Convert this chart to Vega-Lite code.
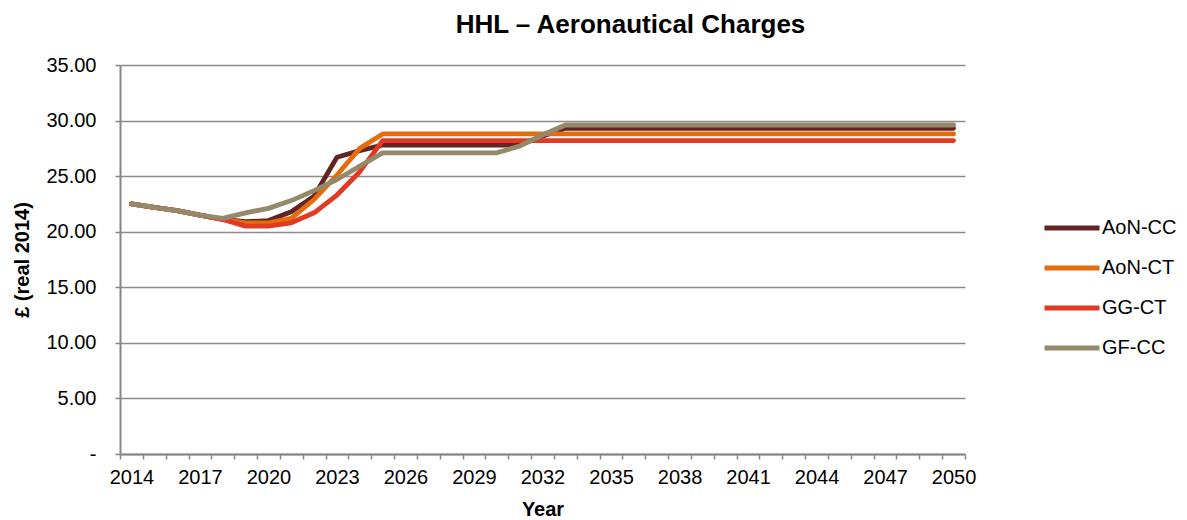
{
  "$schema": "https://vega.github.io/schema/vega-lite/v6.json",
  "width": 845,
  "height": 389,
  "autosize": {"type": "none"},
  "padding": {"left": 120, "top": 65, "right": 222, "bottom": 66},
  "background": "white",
  "title": {
    "text": "HHL – Aeronautical Charges",
    "fontSize": 26,
    "fontWeight": "bold",
    "font": "Liberation Sans",
    "color": "#000000",
    "anchor": "middle",
    "dx": 88,
    "offset": 17
  },
  "config": {
    "font": "Liberation Sans",
    "view": {"stroke": null}
  },
  "datasets": {
    "charges": [
      {"year": 2014, "series": "AoN-CC", "value": 22.5},
      {"year": 2015, "series": "AoN-CC", "value": 22.2},
      {"year": 2016, "series": "AoN-CC", "value": 21.9},
      {"year": 2017, "series": "AoN-CC", "value": 21.5},
      {"year": 2018, "series": "AoN-CC", "value": 21.1},
      {"year": 2019, "series": "AoN-CC", "value": 20.9},
      {"year": 2020, "series": "AoN-CC", "value": 21.0},
      {"year": 2021, "series": "AoN-CC", "value": 21.8},
      {"year": 2022, "series": "AoN-CC", "value": 23.2},
      {"year": 2023, "series": "AoN-CC", "value": 26.7},
      {"year": 2024, "series": "AoN-CC", "value": 27.3},
      {"year": 2025, "series": "AoN-CC", "value": 27.8},
      {"year": 2026, "series": "AoN-CC", "value": 27.8},
      {"year": 2027, "series": "AoN-CC", "value": 27.8},
      {"year": 2028, "series": "AoN-CC", "value": 27.8},
      {"year": 2029, "series": "AoN-CC", "value": 27.8},
      {"year": 2030, "series": "AoN-CC", "value": 27.8},
      {"year": 2031, "series": "AoN-CC", "value": 27.8},
      {"year": 2032, "series": "AoN-CC", "value": 28.6},
      {"year": 2033, "series": "AoN-CC", "value": 29.3},
      {"year": 2034, "series": "AoN-CC", "value": 29.3},
      {"year": 2035, "series": "AoN-CC", "value": 29.3},
      {"year": 2036, "series": "AoN-CC", "value": 29.3},
      {"year": 2037, "series": "AoN-CC", "value": 29.3},
      {"year": 2038, "series": "AoN-CC", "value": 29.3},
      {"year": 2039, "series": "AoN-CC", "value": 29.3},
      {"year": 2040, "series": "AoN-CC", "value": 29.3},
      {"year": 2041, "series": "AoN-CC", "value": 29.3},
      {"year": 2042, "series": "AoN-CC", "value": 29.3},
      {"year": 2043, "series": "AoN-CC", "value": 29.3},
      {"year": 2044, "series": "AoN-CC", "value": 29.3},
      {"year": 2045, "series": "AoN-CC", "value": 29.3},
      {"year": 2046, "series": "AoN-CC", "value": 29.3},
      {"year": 2047, "series": "AoN-CC", "value": 29.3},
      {"year": 2048, "series": "AoN-CC", "value": 29.3},
      {"year": 2049, "series": "AoN-CC", "value": 29.3},
      {"year": 2050, "series": "AoN-CC", "value": 29.3},

      {"year": 2014, "series": "AoN-CT", "value": 22.5},
      {"year": 2015, "series": "AoN-CT", "value": 22.2},
      {"year": 2016, "series": "AoN-CT", "value": 21.9},
      {"year": 2017, "series": "AoN-CT", "value": 21.5},
      {"year": 2018, "series": "AoN-CT", "value": 21.1},
      {"year": 2019, "series": "AoN-CT", "value": 20.8},
      {"year": 2020, "series": "AoN-CT", "value": 20.8},
      {"year": 2021, "series": "AoN-CT", "value": 21.2},
      {"year": 2022, "series": "AoN-CT", "value": 22.9},
      {"year": 2023, "series": "AoN-CT", "value": 25.1},
      {"year": 2024, "series": "AoN-CT", "value": 27.5},
      {"year": 2025, "series": "AoN-CT", "value": 28.8},
      {"year": 2026, "series": "AoN-CT", "value": 28.8},
      {"year": 2027, "series": "AoN-CT", "value": 28.8},
      {"year": 2028, "series": "AoN-CT", "value": 28.8},
      {"year": 2029, "series": "AoN-CT", "value": 28.8},
      {"year": 2030, "series": "AoN-CT", "value": 28.8},
      {"year": 2031, "series": "AoN-CT", "value": 28.8},
      {"year": 2032, "series": "AoN-CT", "value": 28.8},
      {"year": 2033, "series": "AoN-CT", "value": 28.8},
      {"year": 2034, "series": "AoN-CT", "value": 28.8},
      {"year": 2035, "series": "AoN-CT", "value": 28.8},
      {"year": 2036, "series": "AoN-CT", "value": 28.8},
      {"year": 2037, "series": "AoN-CT", "value": 28.8},
      {"year": 2038, "series": "AoN-CT", "value": 28.8},
      {"year": 2039, "series": "AoN-CT", "value": 28.8},
      {"year": 2040, "series": "AoN-CT", "value": 28.8},
      {"year": 2041, "series": "AoN-CT", "value": 28.8},
      {"year": 2042, "series": "AoN-CT", "value": 28.8},
      {"year": 2043, "series": "AoN-CT", "value": 28.8},
      {"year": 2044, "series": "AoN-CT", "value": 28.8},
      {"year": 2045, "series": "AoN-CT", "value": 28.8},
      {"year": 2046, "series": "AoN-CT", "value": 28.8},
      {"year": 2047, "series": "AoN-CT", "value": 28.8},
      {"year": 2048, "series": "AoN-CT", "value": 28.8},
      {"year": 2049, "series": "AoN-CT", "value": 28.8},
      {"year": 2050, "series": "AoN-CT", "value": 28.8},

      {"year": 2014, "series": "GG-CT", "value": 22.5},
      {"year": 2015, "series": "GG-CT", "value": 22.2},
      {"year": 2016, "series": "GG-CT", "value": 21.9},
      {"year": 2017, "series": "GG-CT", "value": 21.5},
      {"year": 2018, "series": "GG-CT", "value": 21.1},
      {"year": 2019, "series": "GG-CT", "value": 20.5},
      {"year": 2020, "series": "GG-CT", "value": 20.5},
      {"year": 2021, "series": "GG-CT", "value": 20.8},
      {"year": 2022, "series": "GG-CT", "value": 21.7},
      {"year": 2023, "series": "GG-CT", "value": 23.3},
      {"year": 2024, "series": "GG-CT", "value": 25.4},
      {"year": 2025, "series": "GG-CT", "value": 28.2},
      {"year": 2026, "series": "GG-CT", "value": 28.2},
      {"year": 2027, "series": "GG-CT", "value": 28.2},
      {"year": 2028, "series": "GG-CT", "value": 28.2},
      {"year": 2029, "series": "GG-CT", "value": 28.2},
      {"year": 2030, "series": "GG-CT", "value": 28.2},
      {"year": 2031, "series": "GG-CT", "value": 28.2},
      {"year": 2032, "series": "GG-CT", "value": 28.2},
      {"year": 2033, "series": "GG-CT", "value": 28.2},
      {"year": 2034, "series": "GG-CT", "value": 28.2},
      {"year": 2035, "series": "GG-CT", "value": 28.2},
      {"year": 2036, "series": "GG-CT", "value": 28.2},
      {"year": 2037, "series": "GG-CT", "value": 28.2},
      {"year": 2038, "series": "GG-CT", "value": 28.2},
      {"year": 2039, "series": "GG-CT", "value": 28.2},
      {"year": 2040, "series": "GG-CT", "value": 28.2},
      {"year": 2041, "series": "GG-CT", "value": 28.2},
      {"year": 2042, "series": "GG-CT", "value": 28.2},
      {"year": 2043, "series": "GG-CT", "value": 28.2},
      {"year": 2044, "series": "GG-CT", "value": 28.2},
      {"year": 2045, "series": "GG-CT", "value": 28.2},
      {"year": 2046, "series": "GG-CT", "value": 28.2},
      {"year": 2047, "series": "GG-CT", "value": 28.2},
      {"year": 2048, "series": "GG-CT", "value": 28.2},
      {"year": 2049, "series": "GG-CT", "value": 28.2},
      {"year": 2050, "series": "GG-CT", "value": 28.2},

      {"year": 2014, "series": "GF-CC", "value": 22.5},
      {"year": 2015, "series": "GF-CC", "value": 22.2},
      {"year": 2016, "series": "GF-CC", "value": 21.9},
      {"year": 2017, "series": "GF-CC", "value": 21.5},
      {"year": 2018, "series": "GF-CC", "value": 21.2},
      {"year": 2019, "series": "GF-CC", "value": 21.7},
      {"year": 2020, "series": "GF-CC", "value": 22.1},
      {"year": 2021, "series": "GF-CC", "value": 22.8},
      {"year": 2022, "series": "GF-CC", "value": 23.7},
      {"year": 2023, "series": "GF-CC", "value": 24.7},
      {"year": 2024, "series": "GF-CC", "value": 25.9},
      {"year": 2025, "series": "GF-CC", "value": 27.1},
      {"year": 2026, "series": "GF-CC", "value": 27.1},
      {"year": 2027, "series": "GF-CC", "value": 27.1},
      {"year": 2028, "series": "GF-CC", "value": 27.1},
      {"year": 2029, "series": "GF-CC", "value": 27.1},
      {"year": 2030, "series": "GF-CC", "value": 27.1},
      {"year": 2031, "series": "GF-CC", "value": 27.7},
      {"year": 2032, "series": "GF-CC", "value": 28.7},
      {"year": 2033, "series": "GF-CC", "value": 29.6},
      {"year": 2034, "series": "GF-CC", "value": 29.6},
      {"year": 2035, "series": "GF-CC", "value": 29.6},
      {"year": 2036, "series": "GF-CC", "value": 29.6},
      {"year": 2037, "series": "GF-CC", "value": 29.6},
      {"year": 2038, "series": "GF-CC", "value": 29.6},
      {"year": 2039, "series": "GF-CC", "value": 29.6},
      {"year": 2040, "series": "GF-CC", "value": 29.6},
      {"year": 2041, "series": "GF-CC", "value": 29.6},
      {"year": 2042, "series": "GF-CC", "value": 29.6},
      {"year": 2043, "series": "GF-CC", "value": 29.6},
      {"year": 2044, "series": "GF-CC", "value": 29.6},
      {"year": 2045, "series": "GF-CC", "value": 29.6},
      {"year": 2046, "series": "GF-CC", "value": 29.6},
      {"year": 2047, "series": "GF-CC", "value": 29.6},
      {"year": 2048, "series": "GF-CC", "value": 29.6},
      {"year": 2049, "series": "GF-CC", "value": 29.6},
      {"year": 2050, "series": "GF-CC", "value": 29.6}
    ]
  },
  "data": {"name": "charges"},
  "mark": {"type": "line", "strokeWidth": 4.8, "strokeCap": "round", "strokeJoin": "round"},
  "encoding": {
    "x": {
      "field": "year",
      "type": "quantitative",
      "scale": {"domain": [2013.5, 2050.5], "nice": false, "zero": false},
      "axis": {
        "title": "Year",
        "titleFontSize": 20,
        "titleFontWeight": "bold",
        "titleColor": "#000000",
        "titlePadding": 12,
        "values": [2013.5, 2014, 2014.5, 2015.5, 2016.5, 2017, 2017.5, 2018.5, 2019.5, 2020, 2020.5, 2021.5, 2022.5, 2023, 2023.5, 2024.5, 2025.5, 2026, 2026.5, 2027.5, 2028.5, 2029, 2029.5, 2030.5, 2031.5, 2032, 2032.5, 2033.5, 2034.5, 2035, 2035.5, 2036.5, 2037.5, 2038, 2038.5, 2039.5, 2040.5, 2041, 2041.5, 2042.5, 2043.5, 2044, 2044.5, 2045.5, 2046.5, 2047, 2047.5, 2048.5, 2049.5, 2050, 2050.5],
        "labelExpr": "datum.value % 1 == 0 ? format(datum.value, 'd') : ''",
        "tickOpacity": {"expr": "datum.value % 1 == 0 ? 0 : 1"},
        "labelOverlap": false,
        "labelBound": false,
        "labelFlush": false,
        "labelFontSize": 20,
        "labelColor": "#000000",
        "labelPadding": 8,
        "tickSize": 5,
        "tickWidth": 1.5,
        "tickColor": "#868686",
        "domainColor": "#868686",
        "domainWidth": 2,
        "grid": false
      }
    },
    "y": {
      "field": "value",
      "type": "quantitative",
      "scale": {"domain": [0, 35], "nice": false},
      "axis": {
        "title": "£ (real 2014)",
        "titleFontSize": 20,
        "titleFontWeight": "bold",
        "titleColor": "#000000",
        "titlePadding": 13,
        "values": [0, 5, 10, 15, 20, 25, 30, 35],
        "labelExpr": "datum.value == 0 ? '-' : format(datum.value, '.2f')",
        "labelFontSize": 20,
        "labelColor": "#000000",
        "labelPadding": 19,
        "tickSize": 5,
        "tickWidth": 1.5,
        "tickColor": "#868686",
        "domainColor": "#868686",
        "domainWidth": 2,
        "grid": true,
        "gridColor": "#8c8c8c",
        "gridWidth": 1.6
      }
    },
    "color": {
      "field": "series",
      "type": "nominal",
      "sort": ["AoN-CC", "AoN-CT", "GG-CT", "GF-CC"],
      "scale": {
        "domain": ["AoN-CC", "AoN-CT", "GG-CT", "GF-CC"],
        "range": ["#632523", "#E46C0A", "#E23A22", "#948A6B"]
      },
      "legend": {
        "title": null,
        "orient": "none",
        "legendX": 922,
        "legendY": 133,
        "symbolType": "stroke",
        "symbolSize": 3025,
        "symbolStrokeWidth": 5,
        "labelFontSize": 20,
        "labelColor": "#000000",
        "labelOffset": 0,
        "rowPadding": 0
      }
    },
    "order": {"field": "year", "type": "quantitative"}
  }
}
